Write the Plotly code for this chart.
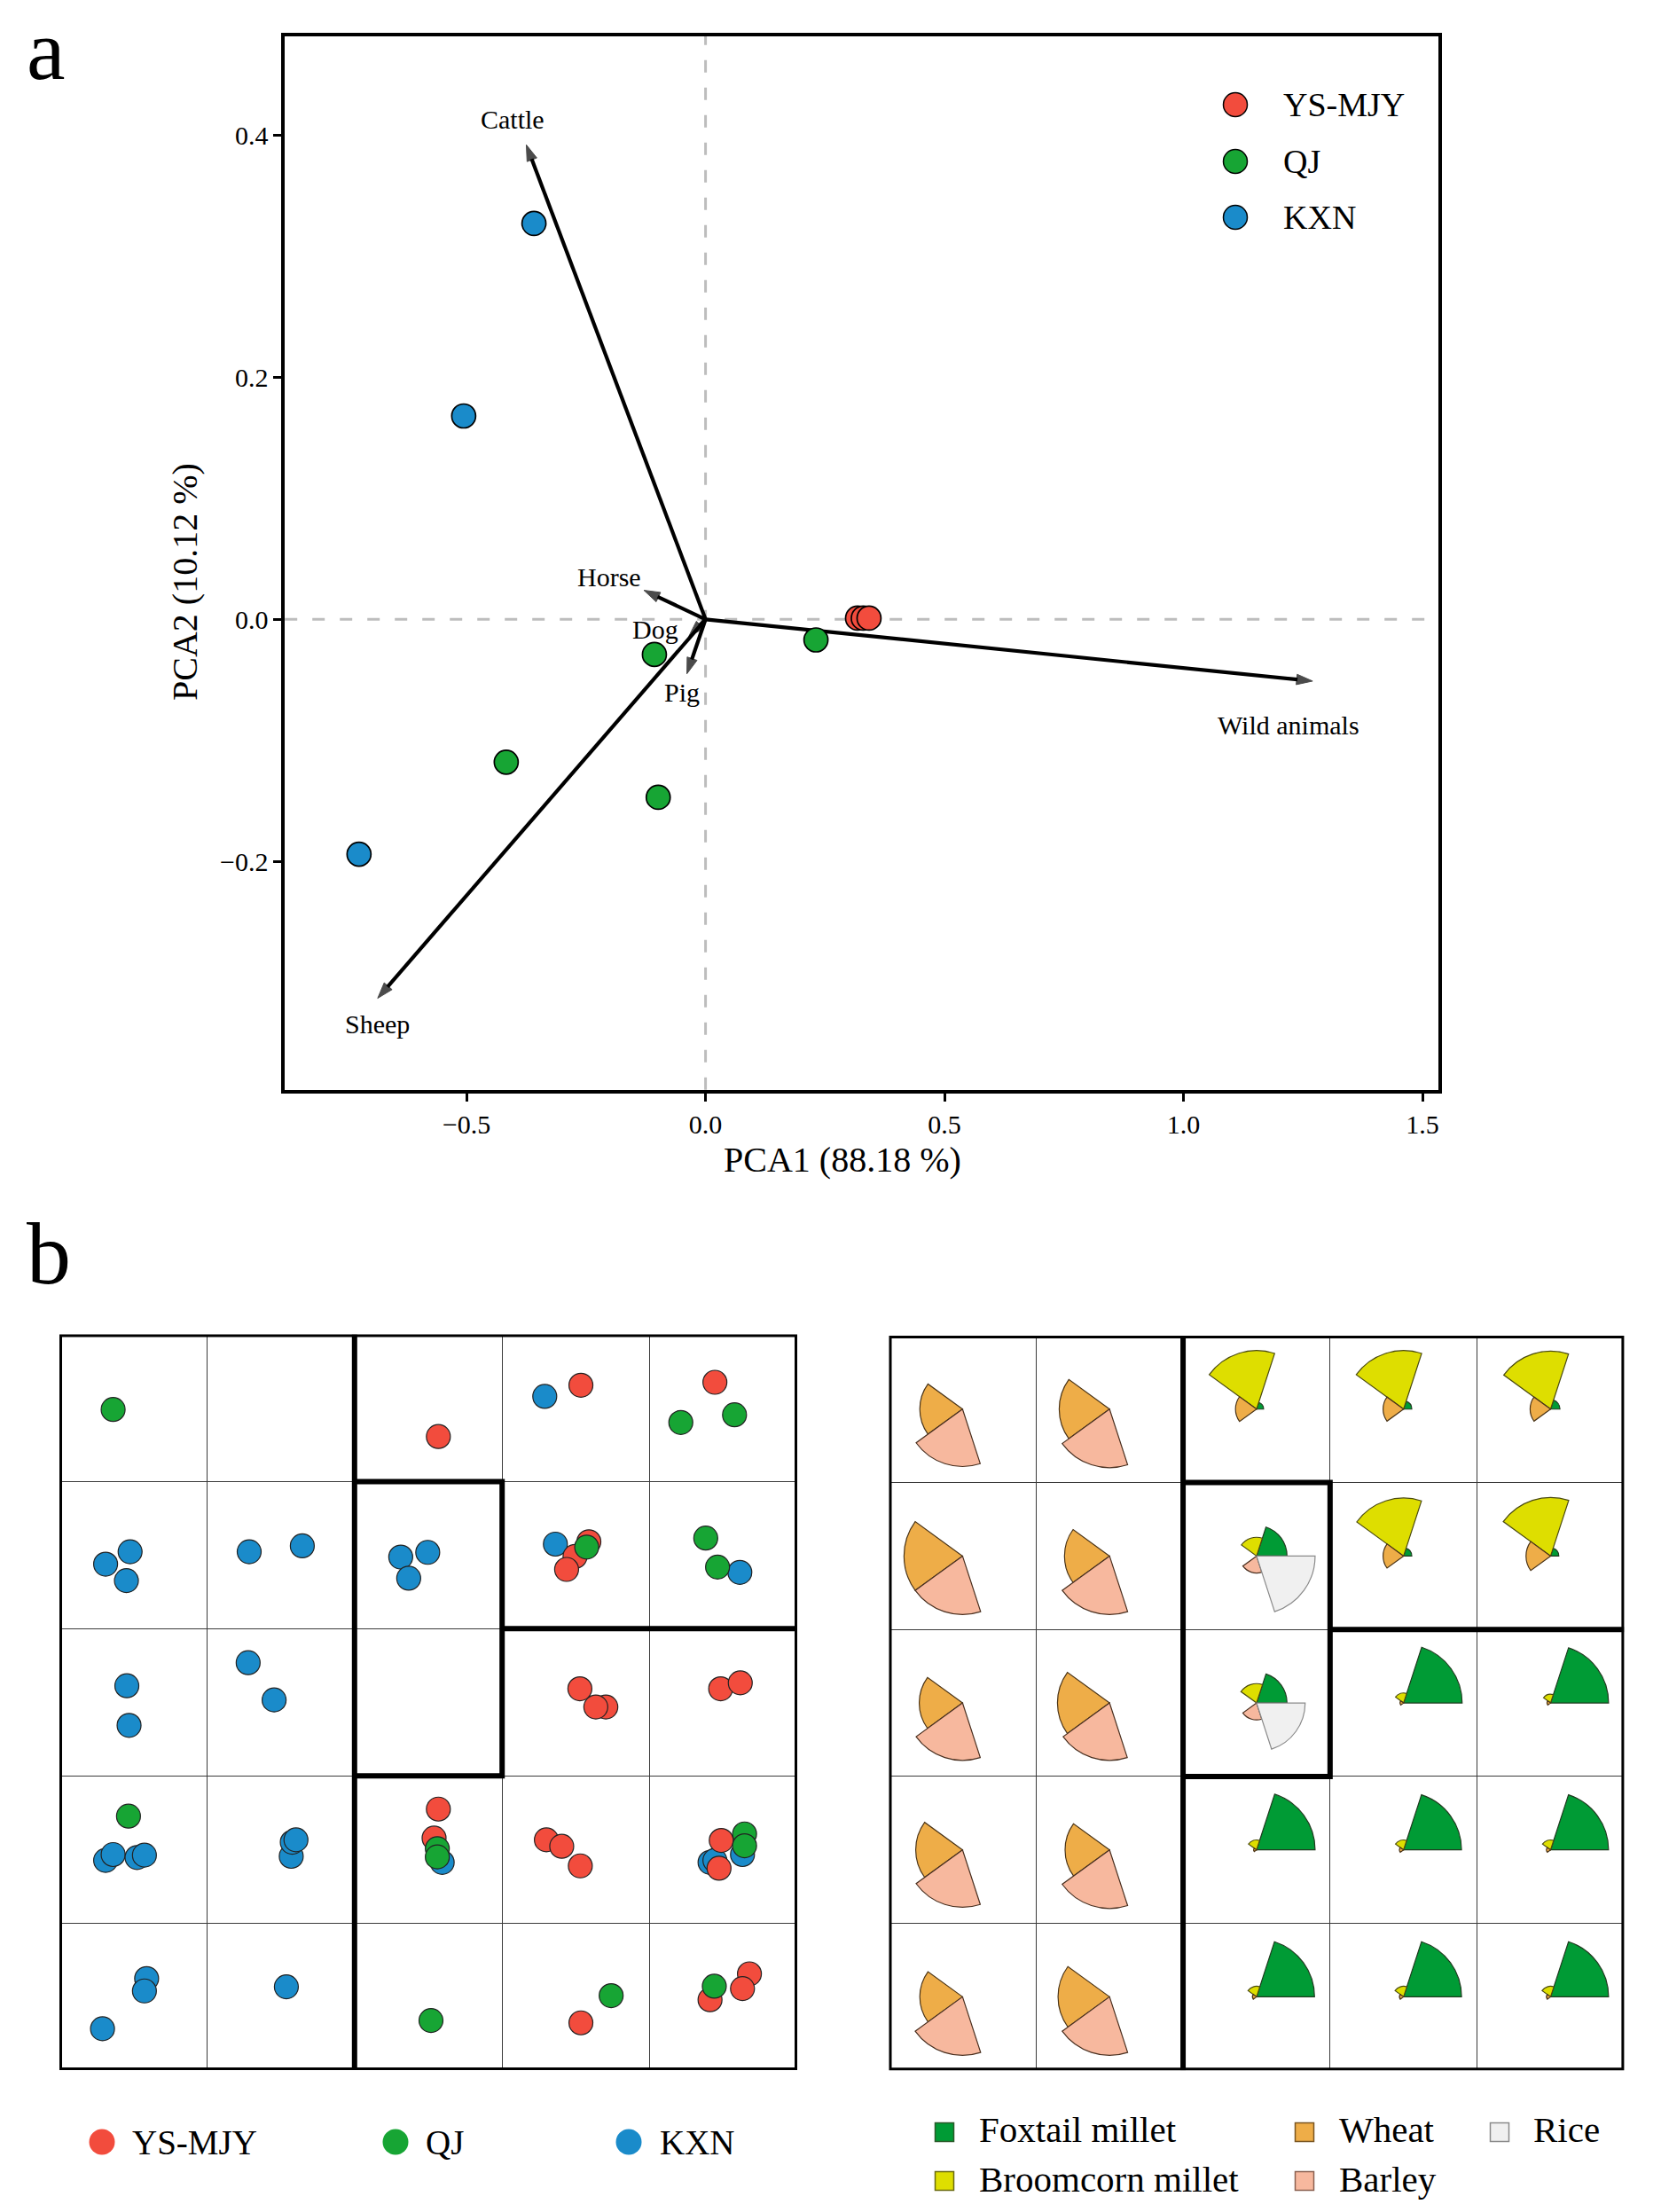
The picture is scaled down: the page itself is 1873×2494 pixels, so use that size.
import plotly.graph_objects as go

W, H = 1873, 2494
FONT = "Liberation Serif"

# ---------------- Panel a data (PCA) ----------------
sites = ["YS-MJY", "QJ", "KXN"]
site_colors = ["#F24C3D", "#17A534", "#1A8BCA"]

ysmjy_pc1 = [0.318, 0.330, 0.342]
ysmjy_pc2 = [0.001, 0.001, 0.001]
qj_pc1 = [-0.107, 0.231, -0.417, -0.099]
qj_pc2 = [-0.029, -0.017, -0.118, -0.147]
kxn_pc1 = [-0.359, -0.506, -0.725]
kxn_pc2 = [0.327, 0.168, -0.194]

animals = ["Cattle", "Horse", "Dog", "Pig", "Sheep", "Wild animals"]
load_pc1 = [-0.375, -0.129, -0.035, -0.039, -0.686, 1.270]
load_pc2 = [0.392, 0.024, -0.014, -0.045, -0.313, -0.051]
label_pc1 = [-0.404, -0.202, -0.105, -0.049, -0.687, 1.220]
label_pc2 = [0.413, 0.035, -0.008, -0.060, -0.334, -0.087]

x_ticks = [-0.5, 0.0, 0.5, 1.0, 1.5]
x_ticktext = ["\u22120.5", "0.0", "0.5", "1.0", "1.5"]
y_ticks = [-0.2, 0.0, 0.2, 0.4]
y_ticktext = ["\u22120.2", "0.0", "0.2", "0.4"]

# ---------------- Panel b left data (grid cell positions: column, row) ----------------
b_ysmjy_col = [2.568, 3.534, 4.442, 3.588, 3.494, 3.437, 3.527, 3.703, 3.635, 4.481, 4.614,
               2.568, 2.539, 3.300, 3.404, 3.530, 4.485, 4.470, 3.534, 4.676, 4.629, 4.409]
b_ysmjy_row = [0.694, 0.345, 0.325, 1.409, 1.509, 1.597, 2.408, 2.532, 2.532, 2.408, 2.368,
               3.226, 3.423, 3.435, 3.479, 3.612, 3.439, 3.628, 4.679, 4.346, 4.446, 4.522]
b_qj_col = [0.364, 4.211, 4.575, 3.573, 4.380, 4.460, 0.468, 2.561, 2.561, 4.643, 4.643,
            2.518, 3.739, 4.438]
b_qj_row = [0.510, 0.598, 0.546, 1.445, 1.384, 1.581, 3.274, 3.495, 3.551, 3.395, 3.475,
            4.663, 4.494, 4.430]
b_kxn_col = [3.289, 0.479, 0.313, 0.454, 1.286, 1.646, 2.313, 2.496, 2.367, 3.361, 4.611,
             0.457, 0.472, 1.279, 1.455, 0.313, 0.364, 0.526, 0.576, 1.571, 1.578, 1.603,
             2.594, 4.629, 4.409, 4.442, 0.591, 0.576, 0.292, 1.538]
b_kxn_row = [0.421, 1.477, 1.561, 1.673, 1.477, 1.437, 1.513, 1.481, 1.657, 1.425, 1.617,
             2.388, 2.657, 2.231, 2.484, 3.575, 3.535, 3.555, 3.539, 3.547, 3.451, 3.435,
             3.588, 3.535, 3.588, 3.575, 4.378, 4.462, 4.719, 4.434]

# ---------------- Panel b right data (relative wedge radius, rows top->bottom) ----------------
crops = ["Foxtail millet", "Broomcorn millet", "Wheat", "Barley", "Rice"]
crop_colors = ["#009B35", "#DEDE00", "#EEAD48", "#F7B89E", "#F0F0F0"]
crop_edges = ["#1F3A1F", "#4A4A10", "#4A3418", "#4A3020", "#8A8A8A"]
crop_theta = [36, 108, 180, 252, 324]

foxtail = [[0, 0, 12, 14, 16],
           [0, 0, 52, 14, 14],
           [0, 0, 52, 100, 99],
           [0, 0, 100, 99, 99],
           [0, 0, 99, 99, 99]]
broomcorn = [[0, 0, 100, 100, 99],
             [0, 0, 32, 99, 100],
             [0, 0, 33, 17, 15],
             [0, 0, 17, 17, 17],
             [0, 0, 18, 18, 18]]
wheat = [[73, 86, 36, 35, 35],
         [100, 77, 0, 35, 42],
         [74, 89, 0, 6, 6],
         [80, 76, 5, 7, 7],
         [73, 88, 7, 7, 7]]
barley = [[98, 100, 0, 0, 0],
          [100, 100, 29, 0, 0],
          [98, 98, 29, 0, 0],
          [98, 100, 0, 0, 0],
          [100, 100, 0, 0, 0]]
rice = [[0, 0, 0, 0, 0],
        [0, 0, 100, 0, 0],
        [0, 0, 83, 0, 0],
        [0, 0, 0, 0, 0],
        [0, 0, 0, 0, 0]]

# ---------------- layout geometry (pixels) ----------------
def fx(p):
    return p / W


def fy(p):
    return 1 - p / H


AX0, AXS = 795.6, 539.0
AY0, AYS = 698.3, 1365.0
A_L, A_R, A_T, A_B = 321.2, 1622.2, 40.5, 1228.8

LX0, LX1, LY0, LY1 = 67.0, 899.0, 1504.6, 2334.0
RX0, RX1, RY0, RY1 = 1002.5, 1831.4, 1505.9, 2334.2

fig = go.Figure()

# ---- panel a: loading arrows (under points) ----
for i, name in enumerate(animals):
    fig.add_trace(go.Scatter(
        x=[0, load_pc1[i]], y=[0, load_pc2[i]], mode="lines+markers",
        line=dict(color="black", width=4.2),
        marker=dict(symbol=["circle", "arrow"], size=[0, 19], angleref="previous",
                    color="black", line=dict(color="black", width=1)),
        xaxis="x", yaxis="y", hoverinfo="skip", cliponaxis=False))

for xs, ys, col, nm in [(ysmjy_pc1, ysmjy_pc2, site_colors[0], sites[0]),
                        (qj_pc1, qj_pc2, site_colors[1], sites[1]),
                        (kxn_pc1, kxn_pc2, site_colors[2], sites[2])]:
    fig.add_trace(go.Scatter(
        x=xs, y=ys, mode="markers", name=nm,
        marker=dict(size=27, color=col, line=dict(color="black", width=1.7)),
        xaxis="x", yaxis="y"))

# ---- panel b left: points ----
for xs, ys, col, nm in [(b_kxn_col, b_kxn_row, site_colors[2], sites[2]),
                        (b_ysmjy_col, b_ysmjy_row, site_colors[0], sites[0]),
                        (b_qj_col, b_qj_row, site_colors[1], sites[1])]:
    fig.add_trace(go.Scatter(
        x=xs, y=ys, mode="markers", name=nm,
        marker=dict(size=27, color=col, line=dict(color="#222", width=1.2)),
        xaxis="x2", yaxis="y2"))

# ---- panel b right: rose wedges (one polar subplot per cell) ----
cw = (RX1 - RX0) / 5
ch = (RY1 - RY0) / 5
rad_px = min(cw, ch) / 2
rmax = 100 * rad_px / 66.0
layout_polars = {}
tables = [foxtail, broomcorn, wheat, barley, rice]
for r in range(5):
    for c in range(5):
        idx = r * 5 + c
        key = "polar" if idx == 0 else "polar%d" % (idx + 1)
        rs, th, cols, edges = [], [], [], []
        for k in range(5):
            v = tables[k][r][c]
            if v > 0:
                rs.append(v)
                th.append(crop_theta[k])
                cols.append(crop_colors[k])
                edges.append(crop_edges[k])
        fig.add_trace(go.Barpolar(
            r=rs, theta=th, width=[72] * len(rs), subplot=key,
            marker=dict(color=cols, line=dict(color=edges, width=1.2)),
            hoverinfo="skip"))
        layout_polars[key] = dict(
            domain=dict(x=[fx(RX0 + c * cw), fx(RX0 + (c + 1) * cw)],
                        y=[fy(RY0 + (r + 1) * ch), fy(RY0 + r * ch)]),
            bgcolor="rgba(0,0,0,0)",
            radialaxis=dict(visible=False, range=[0, rmax]),
            angularaxis=dict(visible=False, rotation=0, direction="counterclockwise"))

# ---- legends (overlay pixel axis) ----
fig.add_trace(go.Scatter(
    x=[1393, 1393, 1393], y=[118, 182, 245], mode="markers",
    marker=dict(size=27, color=site_colors, line=dict(color="black", width=1.5)),
    xaxis="x4", yaxis="y4", hoverinfo="skip", cliponaxis=False))
fig.add_trace(go.Scatter(
    x=[115, 446, 709], y=[2415, 2415, 2415], mode="markers",
    marker=dict(size=29, color=site_colors, line=dict(width=0)),
    xaxis="x4", yaxis="y4", hoverinfo="skip", cliponaxis=False))
fig.add_trace(go.Scatter(
    x=[1065, 1065, 1471, 1471, 1691], y=[2404, 2459, 2404, 2459, 2404], mode="markers",
    marker=dict(symbol="square", size=21,
                color=[crop_colors[0], crop_colors[1], crop_colors[2], crop_colors[3], crop_colors[4]],
                line=dict(color=["#2A5A2A", "#6A6A10", "#7A5520", "#8A6050", "#8A8A8A"], width=1.5)),
    xaxis="x4", yaxis="y4", hoverinfo="skip", cliponaxis=False))

annotations = []


def txt(x, y, s, size, xanchor="left", angle=0):
    annotations.append(dict(x=fx(x), y=fy(y), xref="paper", yref="paper", text=s,
                            showarrow=False, xanchor=xanchor, yanchor="middle",
                            textangle=angle, font=dict(family=FONT, size=size, color="black")))


txt(1445, 118, "YS-MJY", 38)
txt(1445, 182, "QJ", 38)
txt(1445, 245, "KXN", 38)
txt(147, 2415, "YS-MJY", 39)
txt(478, 2415, "QJ", 39)
txt(742, 2415, "KXN", 39)
txt(1102, 2401, "Foxtail millet", 41)
txt(1102, 2457, "Broomcorn millet", 41)
txt(1508, 2401, "Wheat", 41)
txt(1508, 2457, "Barley", 41)
txt(1727, 2401, "Rice", 41)
txt(950, 1307, "PCA1 (88.18 %)", 40, xanchor="center")
txt(208, 656, "PCA2 (10.12 %)", 40, xanchor="center", angle=-90)
txt(28, 56, "a", 98)
txt(28, 1414, "b", 100)

for i, name in enumerate(animals):
    annotations.append(dict(x=label_pc1[i], y=label_pc2[i], xref="x", yref="y", text=name,
                            showarrow=False, xanchor="center", yanchor="middle",
                            font=dict(family=FONT, size=30, color="black")))

# ---- shapes ----
shapes = [
    dict(type="line", xref="x", yref="y domain", x0=0, x1=0, y0=0, y1=1, layer="below",
         line=dict(color="#BDBDBD", width=3, dash="14px,17px")),
    dict(type="line", xref="x domain", yref="y", x0=0, x1=0.99, y0=0, y1=0, layer="below",
         line=dict(color="#BDBDBD", width=3, dash="14px,17px")),
]
for xr, yr in [("x2", "y2"), ("x3", "y3")]:
    thick = dict(color="black", width=6)
    shapes.append(dict(type="rect", xref=xr, yref=yr, x0=0, x1=5, y0=0, y1=5, line=thick))
    shapes.append(dict(type="line", xref=xr, yref=yr, x0=2, x1=2, y0=0, y1=5, line=thick))
    shapes.append(dict(type="path", xref=xr, yref=yr, path="M 2 1 L 3 1 L 3 3 L 2 3", line=thick))
    shapes.append(dict(type="line", xref=xr, yref=yr, x0=3, x1=5, y0=2, y1=2, line=thick))

grid_axis = dict(range=[0, 5], tickvals=[1, 2, 3, 4], showgrid=True, gridcolor="#3A3A3A",
                 gridwidth=1.3, showticklabels=False, ticks="", zeroline=False, showline=False)
grid_yaxis = dict(grid_axis)
grid_yaxis["range"] = [5, 0]

layout = dict(
    width=W, height=H, margin=dict(l=0, r=0, t=0, b=0),
    paper_bgcolor="white", plot_bgcolor="rgba(0,0,0,0)", template="none", showlegend=False,
    font=dict(family=FONT, color="black"),
    xaxis=dict(domain=[fx(A_L), fx(A_R)],
               range=[(A_L - AX0) / AXS, (A_R - AX0) / AXS],
               showline=True, mirror=True, linewidth=3.5, linecolor="black",
               ticks="outside", ticklen=9, tickwidth=3, tickcolor="black",
               tickvals=x_ticks, ticktext=x_ticktext, tickfont=dict(size=30, family=FONT),
               showgrid=False, zeroline=False, anchor="y"),
    yaxis=dict(domain=[fy(A_B), fy(A_T)],
               range=[(AY0 - A_B) / AYS, (AY0 - A_T) / AYS],
               showline=True, mirror=True, linewidth=3.5, linecolor="black",
               ticks="outside", ticklen=9, tickwidth=3, tickcolor="black",
               tickvals=y_ticks, ticktext=y_ticktext, tickfont=dict(size=30, family=FONT),
               showgrid=False, zeroline=False, anchor="x"),
    xaxis2=dict(grid_axis, domain=[fx(LX0), fx(LX1)], anchor="y2"),
    yaxis2=dict(grid_yaxis, domain=[fy(LY1), fy(LY0)], anchor="x2"),
    xaxis3=dict(grid_axis, domain=[fx(RX0), fx(RX1)], anchor="y3"),
    yaxis3=dict(grid_yaxis, domain=[fy(RY1), fy(RY0)], anchor="x3"),
    xaxis4=dict(domain=[0, 1], range=[0, W], visible=False, anchor="y4"),
    yaxis4=dict(domain=[0, 1], range=[H, 0], visible=False, anchor="x4"),
    annotations=annotations,
    shapes=shapes,
)
layout.update(layout_polars)
fig.update_layout(**layout)

fig.write_html("out.html", config={"displayModeBar": False},
               post_script="document.body.style.margin='0';document.body.style.overflow='hidden';")
